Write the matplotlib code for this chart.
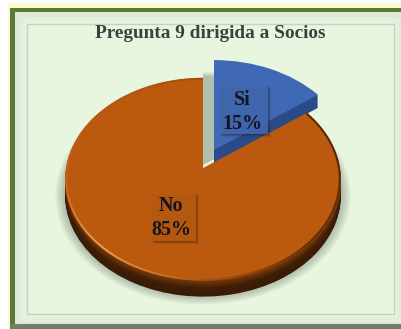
import numpy as np
import matplotlib
matplotlib.use("Agg")
import matplotlib.pyplot as plt
from matplotlib.collections import LineCollection
from matplotlib.colors import LinearSegmentedColormap
from matplotlib.patches import Rectangle
from matplotlib.transforms import Transform

title = "Pregunta 9 dirigida a Socios"
categories = ["Si", "No"]
values = [15, 85]

SERIF = ["Liberation Serif", "DejaVu Serif"]
RX, RY, PERSP = 137.0, 100.0, 0.112


class Tilt(Transform):
    """Projects the flat unit pie onto a tilted plane, front edge nearer the viewer."""

    input_dims = 2
    output_dims = 2

    def __init__(self, cx, cy):
        super().__init__()
        self.cx, self.cy = cx, cy

    def transform_non_affine(self, xy):
        xy = np.asarray(xy, dtype=float)
        w = 1 + PERSP * xy[:, 1]
        return np.column_stack(
            [self.cx + RX * xy[:, 0] / w, self.cy - RY * xy[:, 1] / w]
        )


fig = plt.figure(figsize=(4.01, 3.29), dpi=100)
ax = fig.add_axes([0, 0, 1, 1])


def draw_slice(index, center, color, radius=1.0, alpha=None, zorder=5):
    colors = ["none", "none"]
    colors[index] = color
    wedges = ax.pie(
        values,
        startangle=90,
        counterclock=False,
        colors=colors,
        radius=radius,
        wedgeprops={"linewidth": 0, "alpha": alpha},
    )[0]
    tilt = Tilt(*center) + ax.transData
    for w in wedges:
        w.set_transform(tilt)
        w.set_zorder(zorder)


# nested frame around the plot area
frame = [
    (8, 3, 393, 326, "#fbfad2", None),
    (10, 8, 391, 321, "#5a7a36", None),
    (15, 12, 386, 312, "#dde8d5", None),
    (19, 17, 382, 305, "#e2edda", None),
    (23, 20, 374, 298, "#e6f1de", None),
    (27, 24, 367, 290, "#e8f6e0", "#c6d2be"),
    (10, 324, 391, 5, "#6f7f6c", None),
]
for x, y, w, h, face, edge in frame:
    ax.add_patch(
        Rectangle((x, y), w, h, facecolor=face, edgecolor=edge or "none", lw=1, zorder=1)
    )

no_center = (203, 168)
si_center = (214, 150)

# soft shadows under the slices
for r in np.linspace(1.07, 0.98, 10):
    draw_slice(1, (no_center[0], no_center[1] + 15), "#3c4f3c", r, 0.05, 2)
for r in np.linspace(1.04, 0.98, 6):
    draw_slice(0, (no_center[0], si_center[1] + 15), "#6f7c6c", r, 0.09, 2)

# slice walls, drawn bottom up
for d in range(13, 0, -1):
    draw_slice(0, (si_center[0], si_center[1] + d), "#2a4a88", zorder=4)
draw_slice(0, si_center, "#3f68b5", zorder=5)

wall = LinearSegmentedColormap.from_list("wall", ["#381a06", "#401e06", "#7a3a0a"])
for d in range(16, 0, -1):
    draw_slice(1, (no_center[0], no_center[1] + d), wall(1 - d / 16), zorder=6)
draw_slice(1, no_center, "#bb590e", zorder=7)

# bevelled rim of the large slice
rim = LinearSegmentedColormap.from_list(
    "rim",
    [
        (0.0, "#4a2206"),
        (0.26, "#5a2a08"),
        (0.41, "#a85510"),
        (0.55, "#eda456"),
        (0.68, "#c8651a"),
        (1.0, "#a34c0c"),
    ],
)
theta = np.radians(np.linspace(36, -270, 300))
unit = np.column_stack([0.992 * np.cos(theta), 0.992 * np.sin(theta)])
rim_xy = Tilt(*no_center).transform(unit)
segments = np.stack([rim_xy[:-1], rim_xy[1:]], axis=1)
ax.add_collection(
    LineCollection(
        segments, colors=rim(np.linspace(0, 1, len(segments))), linewidths=1.4, zorder=8
    )
)

# category labels on translucent boxes
label_boxes = [(219, 85, 49, 49, "#4169b3"), (151, 193, 45, 48, "#bb5a10")]
label_pos = [(242, 112), (171, 218)]
for name, val, box, pos in zip(categories, values, label_boxes, label_pos):
    x, y, w, h, face = box
    for off, a in [(3, 0.10), (2, 0.14), (1, 0.18)]:
        ax.add_patch(
            Rectangle((x + off, y + off), w, h, facecolor="#1c1408", alpha=a, lw=0, zorder=9)
        )
    ax.add_patch(Rectangle((x, y), w, h, facecolor=face, alpha=0.9, lw=0, zorder=10))
    ax.text(
        pos[0],
        pos[1],
        f"{name}\n{val}%",
        family=SERIF,
        fontsize=14.4,
        fontweight="bold",
        color="#14141c",
        ha="center",
        va="center",
        linespacing=1.3,
        zorder=11,
    )

ax.text(
    210,
    33,
    title,
    family=SERIF,
    fontsize=13.9,
    fontweight="bold",
    color="#36443c",
    ha="center",
    va="center",
    zorder=11,
)

ax.set_aspect("auto")
ax.set_xlim(0, 401)
ax.set_ylim(329, 0)
ax.axis("off")

fig.savefig("out.png", dpi=100, facecolor="white")
